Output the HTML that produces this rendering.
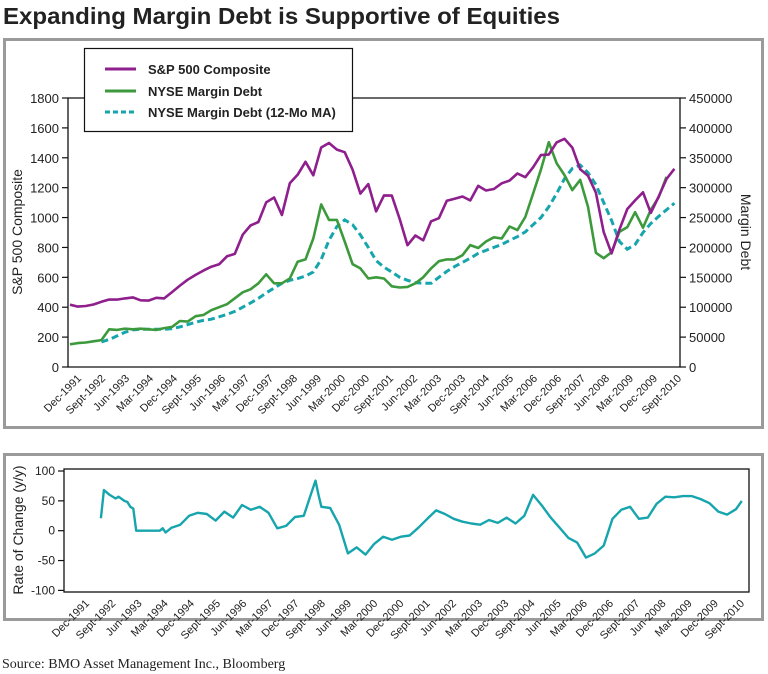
<!DOCTYPE html>
<html><head><meta charset="utf-8">
<style>
html,body{margin:0;padding:0;background:#fff;}
svg{display:block;font-family:"Liberation Sans",sans-serif;}
</style></head>
<body>
<svg id="chart" width="768" height="674" viewBox="0 0 768 674" xmlns="http://www.w3.org/2000/svg">
<text x="3" y="24" font-size="23" font-weight="bold" fill="#222" textLength="557" lengthAdjust="spacingAndGlyphs">Expanding Margin Debt is Supportive of Equities</text>
<rect x="4.5" y="39.5" width="758" height="388" fill="none" stroke="#9a9a9a" stroke-width="3"/>
<rect x="4.5" y="454.5" width="758" height="165" fill="none" stroke="#9a9a9a" stroke-width="3"/>
<g id="topPanel"></g>
<g id="bottomPanel"></g>
<text x="2" y="668" font-family="'Liberation Serif',serif" font-size="14" fill="#222">Source: BMO Asset Management Inc., Bloomberg</text>
</svg>
<script>
// ---------- data ----------
const xLabels = ["Dec-1991","Sept-1992","Jun-1993","Mar-1994","Dec-1994","Sept-1995","Jun-1996","Mar-1997","Dec-1997","Sept-1998","Jun-1999","Mar-2000","Dec-2000","Sept-2001","Jun-2002","Mar-2003","Dec-2003","Sept-2004","Jun-2005","Mar-2006","Dec-2006","Sept-2007","Jun-2008","Mar-2009","Dec-2009","Sept-2010"];
const leftTicks = [0,200,400,600,800,1000,1200,1400,1600,1800];
const rightTicks = [0,50000,100000,150000,200000,250000,300000,350000,400000,450000];
const rocTicks = [-100,-50,0,50,100];
// S&P 500 quarterly values, starting month 0 (Dec-1991), step 3 months
const spValues = [417,404,408,418,436,452,451,459,466,446,444,463,459,501,545,584,616,645,671,687,741,757,885,947,970,1102,1134,1017,1229,1286,1373,1283,1469,1499,1455,1437,1320,1160,1224,1041,1148,1147,990,815,880,848,975,996,1112,1126,1141,1115,1212,1181,1191,1229,1248,1295,1270,1336,1418,1421,1503,1527,1468,1323,1280,1166,903,760,919,1057,1115,1169,1031,1141,1258,1326];
// NYSE margin debt (thousands $M), quarterly from month 0
const marginValues = [38,40,41,43,45,63,62,64,63,64,63,62,65,67,77,76,85,87,95,100,105,115,125,130,140,155,140,140,148,176,180,215,272,246,246,210,172,165,148,150,148,135,133,134,140,150,165,177,180,180,187,204,199,210,217,215,235,229,251,290,330,376,341,321,296,313,268,191,182,192,226,234,259,233,263,284,318];
// 12-month MA (thousands), quarterly from month 12
const maValues = [42,46,52,58,62,63,63,63,63,64,67,71,75,78,80,84,88,93,100,107,115,124,132,140,145,148,152,159,180,212,235,246,238,221,200,178,167,159,150,145,141,140,140,150,160,168,175,182,190,195,200,205,212,218,226,238,250,268,290,315,332,338,325,305,275,245,210,197,205,225,240,252,263,274];
const monthSpan = 232;
// Rate of change y/y
const rocMonths = [13,14,16,18,19,21,22,23,24,25,28,31,33,34,35,37,40,43,46,49,52,55,58,61,64,67,70,73,76,79,82,84,86,87,88,91,94,97,100,103,106,109,112,115,118,121,124,127,130,133,136,139,142,145,148,151,154,157,160,163,166,169,172,175,178,181,184,187,190,193,196,199,202,205,208,211,214,217,220,223,226,229,231];
const rocValues = [21,68,60,54,57,50,48,40,37,0,0,0,0,4,-3,5,10,25,30,28,17,32,22,43,35,40,30,4,8,23,25,55,84,60,40,38,10,-38,-28,-40,-22,-10,-15,-10,-8,5,20,34,28,20,15,12,10,18,13,22,12,25,60,42,22,5,-12,-20,-45,-38,-25,20,35,40,20,22,45,57,56,58,58,53,46,32,27,36,50];

const NS = "http://www.w3.org/2000/svg";
function mk(parent, tag, attrs, text){
  const el = document.createElementNS(NS, tag);
  for (const k in attrs) el.setAttribute(k, attrs[k]);
  if (text !== undefined) el.textContent = text;
  parent.appendChild(el);
  return el;
}
// ---------- top chart ----------
const topG = document.getElementById('topPanel');
const TL=68, TR=680, TT=98, TB=367;
const yL = v => TB - v/1800*(TB-TT);
const yR = v => TB - v/450000*(TB-TT);
const xT = m => 70 + m/monthSpan*(677-70);

let frame = mk(topG,'path',{d:`M${TL},${TT} H${TR} V${TB} H${TL} Z`,fill:'none',stroke:'#111','stroke-width':1.3});



leftTicks.forEach(v=>{
  const y=yL(v);
  const t=mk(topG,'line',{x1:TL-6,x2:TL,y1:y,y2:y,stroke:'#111','stroke-width':1.2});
  
  
  const l=mk(topG,'text',{x:TL-9,y:y+5,'text-anchor':'end','font-size':13,fill:'#222'},String(v));
  
  
});
rightTicks.forEach(v=>{
  const y=yR(v);
  const t=mk(topG,'line',{x1:TR,x2:TR+6,y1:y,y2:y,stroke:'#111','stroke-width':1.2});
  
  
  const l=mk(topG,'text',{x:TR+9,y:y+5,'font-size':13,fill:'#222'},String(v));
  
  
});
xLabels.forEach((s,i)=>{
  const x=82+i*(682-82)/(xLabels.length-1), y=379;
  const l=mk(topG,'text',{x:x,y:y,'text-anchor':'end','font-size':11,fill:'#222',transform:`rotate(-45 ${x} ${y})`},s);
  
  
});
let at=mk(topG,'text',{x:0,y:0,'text-anchor':'middle','font-size':14,fill:'#222',transform:'translate(22 232) rotate(-90)'},'S&P 500 Composite');


at=mk(topG,'text',{x:0,y:0,'text-anchor':'middle','font-size':14,fill:'#222',transform:'translate(741 232) rotate(90)'},'Margin Debt');



function pts(arr, m0, fx, fy){ return arr.map((v,i)=>`${fx(m0+i*3).toFixed(1)},${fy(v).toFixed(1)}`).join(' '); }
let ln=mk(topG,'polyline',{points:pts(maValues,12,xT,v=>yR(v*1000)),fill:'none',stroke:'#17a5ad','stroke-width':3,'stroke-dasharray':'7,4'});


ln=mk(topG,'polyline',{points:pts(marginValues,0,xT,v=>yR(v*1000)),fill:'none',stroke:'#3c9a3c','stroke-width':2.6,'stroke-linejoin':'round'});


ln=mk(topG,'polyline',{points:pts(spValues,0,xT,yL),fill:'none',stroke:'#8e1f8c','stroke-width':2.6,'stroke-linejoin':'round'});



// legend
const lg=mk(topG,'g',{});


let lb=mk(lg,'rect',{x:84.5,y:48.5,width:268,height:83,fill:'#fff',stroke:'#111','stroke-width':1.2});


[['S&P 500 Composite','#8e1f8c',null,69],['NYSE Margin Debt','#3c9a3c',null,91],['NYSE Margin Debt (12-Mo MA)','#17a5ad','5,3',112]].forEach(e=>{
  const a={x1:105,x2:136,y1:e[3],y2:e[3],stroke:e[1],'stroke-width':3};
  if(e[2]) a['stroke-dasharray']=e[2];
  const s=mk(lg,'line',a);
  
  
  const t=mk(lg,'text',{x:148,y:e[3]+5,'font-size':13,'font-weight':'bold',fill:'#222'},e[0]);
  
  
});

// ---------- bottom chart ----------
const botG=document.getElementById('bottomPanel');
const BL=64, BR=749, BT=469, BB=592;
const yB = v => 530.7 - v*0.597;
const xB = m => 62.7 + m*2.94;
let bf=mk(botG,'rect',{x:BL,y:BT,width:BR-BL,height:BB-BT,fill:'none',stroke:'#111','stroke-width':1.3});


rocTicks.forEach(v=>{
  const y=yB(v);
  const t=mk(botG,'line',{x1:BL-6,x2:BL,y1:y,y2:y,stroke:'#111','stroke-width':1.2});
  
  
  const l=mk(botG,'text',{x:BL-9,y:y+4,'text-anchor':'end','font-size':12,fill:'#222'},String(v));
  
  
});
xLabels.forEach((s,i)=>{
  const x=90+i*(745-90)/(xLabels.length-1), y=604;
  const l=mk(botG,'text',{x:x,y:y,'text-anchor':'end','font-size':11,fill:'#222',transform:`rotate(-45 ${x} ${y})`},s);
  
  
});
at=mk(botG,'text',{x:0,y:0,'text-anchor':'middle','font-size':14,fill:'#222',transform:'translate(23 530) rotate(-90)'},'Rate of Change (y/y)');


ln=mk(botG,'polyline',{points:rocMonths.map((m,i)=>`${xB(m).toFixed(1)},${yB(rocValues[i]).toFixed(1)}`).join(' '),fill:'none',stroke:'#17a5ad','stroke-width':2.4,'stroke-linejoin':'round'});


</script>
</body></html>
